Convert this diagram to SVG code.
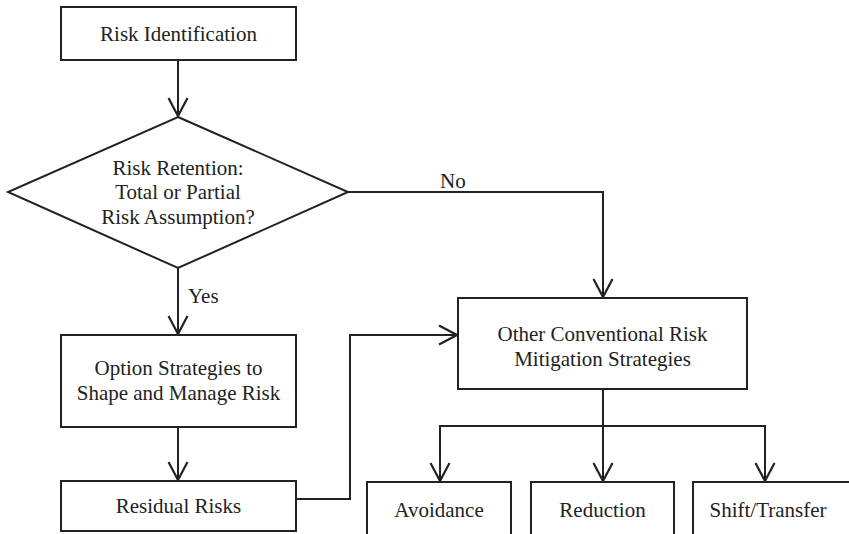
<svg xmlns="http://www.w3.org/2000/svg" width="849" height="534" viewBox="0 0 849 534">
  <style>
    .box { fill: #ffffff; stroke: #222222; stroke-width: 2; }
    .wire { fill: none; stroke: #222222; stroke-width: 2; }
    text { font-family: "Liberation Serif", "Times New Roman", serif; font-size: 21px; fill: #222222; text-anchor: middle; }
    .lbl { text-anchor: start; }
  </style>
  <defs>
    <marker id="vhead" markerUnits="userSpaceOnUse" viewBox="-20 -11 22 22" refX="0" refY="0" markerWidth="22" markerHeight="22" orient="auto">
      <path d="M-18,-9.5 L0,0 L-18,9.5" fill="none" stroke="#222222" stroke-width="2.2"/>
    </marker>
  </defs>
  <rect width="849" height="534" fill="#ffffff"/>

  <g id="connectors">
    <path class="wire" d="M178,60 V116" marker-end="url(#vhead)"/>
    <path class="wire" d="M178,268 V334" marker-end="url(#vhead)"/>
    <path class="wire" d="M178,427 V480" marker-end="url(#vhead)"/>
    <path class="wire" d="M348,192 H603 V297" marker-end="url(#vhead)"/>
    <path class="wire" d="M296,499 H350 V335 H457" marker-end="url(#vhead)"/>
    <path class="wire" d="M603,389 V481" marker-end="url(#vhead)"/>
    <path class="wire" d="M440,481 V426 H765 V481" marker-end="url(#vhead)"/>
    <path class="wire" d="M440,426 V481" marker-end="url(#vhead)"/>
    <text class="lbl" x="188" y="303">Yes</text>
    <text class="lbl" x="440" y="188">No</text>
  </g>

  <g id="risk-identification">
    <rect class="box" x="61" y="7" width="235" height="53"/>
    <text x="178.5" y="41">Risk Identification</text>
  </g>

  <g id="risk-retention">
    <polygon class="box" points="178,117 348,192 178,268 8,192"/>
    <text x="178" y="175">Risk Retention:</text>
    <text x="178" y="199">Total or Partial</text>
    <text x="178" y="224">Risk Assumption?</text>
  </g>

  <g id="option-strategies">
    <rect class="box" x="61" y="335" width="235" height="92"/>
    <text x="178.5" y="375">Option Strategies to</text>
    <text x="178.5" y="400">Shape and Manage Risk</text>
  </g>

  <g id="residual-risks">
    <rect class="box" x="61" y="481" width="235" height="50"/>
    <text x="178.5" y="513">Residual Risks</text>
  </g>

  <g id="other-strategies">
    <rect class="box" x="458" y="298" width="289" height="91"/>
    <text x="602.5" y="341">Other Conventional Risk</text>
    <text x="602.5" y="366">Mitigation Strategies</text>
  </g>

  <g id="avoidance">
    <path class="box" d="M367,540 V482 H511 V540"/>
    <text x="439" y="517">Avoidance</text>
  </g>

  <g id="reduction">
    <path class="box" d="M531,540 V482 H674 V540"/>
    <text x="602.5" y="517">Reduction</text>
  </g>

  <g id="shift-transfer">
    <path class="box" d="M693,540 V482 H852"/>
    <text x="768" y="517">Shift/Transfer</text>
  </g>
</svg>
